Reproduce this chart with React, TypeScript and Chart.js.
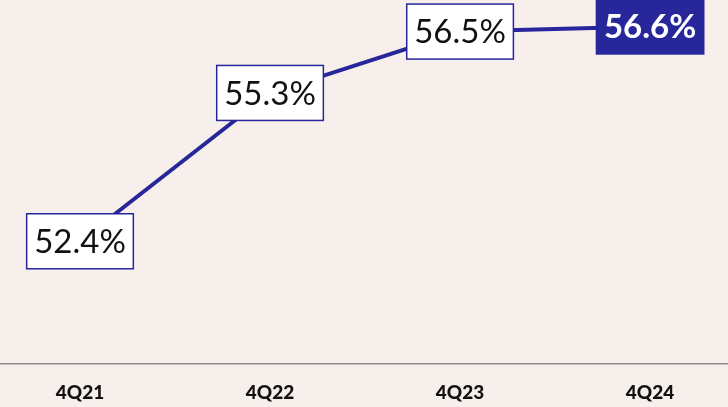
import React, { useEffect, useRef } from "react";
import { Chart, registerables } from "chart.js";

Chart.register(...registerables);

const categories = ["4Q21", "4Q22", "4Q23", "4Q24"];
const values = [52.4, 55.3, 56.5, 56.6];
const valueLabels = ["52.4%", "55.3%", "56.5%", "56.6%"];
const highlightIndex = 3;

const NAVY = "#27279b";
const BG = "#f7efeb";

const bgPlugin = {
  id: "bgFill",
  beforeDraw(chart: any) {
    const { ctx, width, height } = chart;
    ctx.save();
    ctx.fillStyle = BG;
    ctx.fillRect(0, 0, width, height);
    ctx.restore();
  },
};

const labelPlugin = {
  id: "boxLabels",
  afterDatasetsDraw(chart: any) {
    const { ctx } = chart;
    const meta = chart.getDatasetMeta(0);
    meta.data.forEach((pt: any, i: number) => {
      const text = valueLabels[i];
      const hi = i === highlightIndex;
      ctx.save();
      ctx.font = hi
        ? "bold 33px Lato, 'Open Sans', sans-serif"
        : "400 33px Lato, 'Open Sans', sans-serif";
      const tw = ctx.measureText(text).width;
      const w = tw + 15;
      const h = 55;
      const x = pt.x - w / 2;
      const y = pt.y - h / 2;
      ctx.fillStyle = hi ? NAVY : "#ffffff";
      ctx.fillRect(x, y, w, h);
      ctx.lineWidth = 1.5;
      ctx.strokeStyle = NAVY;
      ctx.strokeRect(x, y, w, h);
      ctx.fillStyle = hi ? "#ffffff" : "#111111";
      ctx.textAlign = "center";
      ctx.textBaseline = "middle";
      ctx.fillText(text, pt.x, pt.y + 1);
      ctx.restore();
    });
  },
};

export default function App() {
  const ref = useRef<HTMLCanvasElement | null>(null);

  useEffect(() => {
    document.body.style.margin = "0";
    document.body.style.background = BG;
    if (!ref.current) return;
    const chart = new Chart(ref.current, {
      type: "line",
      data: {
        datasets: [
          {
            data: values.map((v, i) => ({ x: i, y: v })),
            borderColor: NAVY,
            borderWidth: 4,
            pointRadius: 0,
            tension: 0,
            clip: false as any,
          },
        ],
      },
      options: {
        animation: false,
        responsive: true,
        maintainAspectRatio: false,
        layout: { padding: { top: 6, bottom: 0, left: 0, right: 0 } },
        plugins: {
          legend: { display: false },
          tooltip: { enabled: false },
        },
        scales: {
          x: {
            type: "linear",
            min: -0.421,
            max: 3.41,
            grid: { display: false, drawTicks: false },
            border: { display: true, color: "#8c8c8c", width: 1.5 },
            afterFit: (scale: any) => {
              scale.height = 43;
            },
            ticks: {
              stepSize: 1,
              includeBounds: false,
              maxRotation: 0,
              padding: 17,
              color: "#111111",
              font: { family: "Lato, 'Open Sans', sans-serif", size: 19, weight: "900" },
              callback: (v: any) => categories[v] ?? "",
            },
          },
          y: {
            display: false,
            min: 50,
            max: 57,
          },
        },
      },
      plugins: [bgPlugin, labelPlugin],
    });
    return () => chart.destroy();
  }, []);

  return (
    <div style={{ position: "absolute", left: 0, top: 0, width: 728, height: 407 }}>
      <canvas ref={ref} />
    </div>
  );
}
